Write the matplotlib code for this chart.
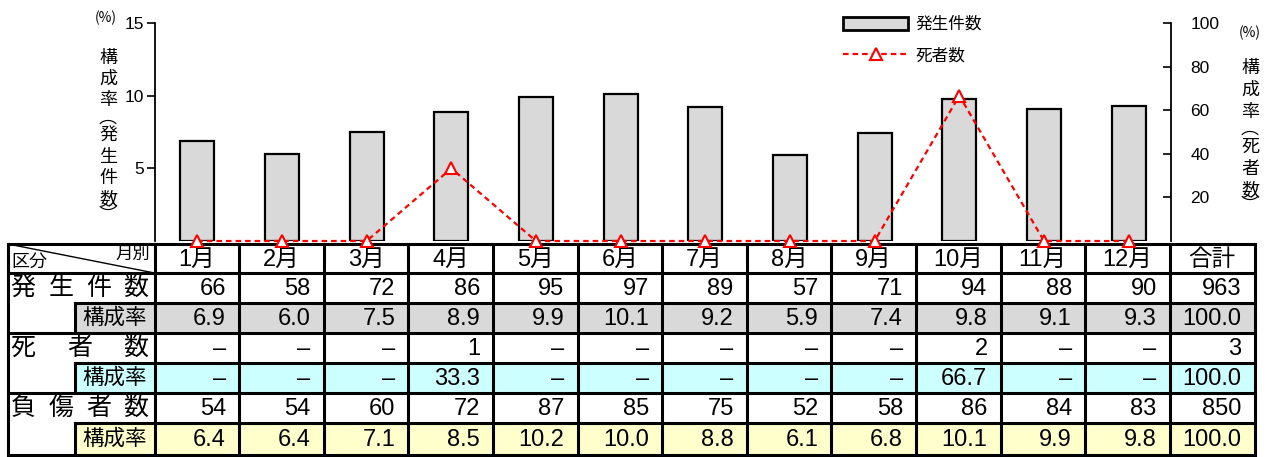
import numpy as np
import matplotlib
matplotlib.use("Agg")
import matplotlib.pyplot as plt
from matplotlib.lines import Line2D
from matplotlib.patches import Patch, Rectangle

plt.rcParams['font.family'] = ['Liberation Sans', 'Noto Sans CJK JP', 'DejaVu Sans']
NUMFONT = ['Liberation Sans', 'Noto Sans CJK JP']
JPFONT = ['Noto Sans CJK JP', 'DejaVu Sans']

# ---------------- data ----------------
months = ["1月", "2月", "3月", "4月", "5月", "6月", "7月", "8月", "9月", "10月", "11月", "12月"]
total_label = "合計"
incidents = [66, 58, 72, 86, 95, 97, 89, 57, 71, 94, 88, 90]
incidents_total = 963
incident_rate = [6.9, 6.0, 7.5, 8.9, 9.9, 10.1, 9.2, 5.9, 7.4, 9.8, 9.1, 9.3]
deaths = [0, 0, 0, 1, 0, 0, 0, 0, 0, 2, 0, 0]
deaths_total = 3
death_rate = [0, 0, 0, 33.3, 0, 0, 0, 0, 0, 66.7, 0, 0]
injured = [54, 54, 60, 72, 87, 85, 75, 52, 58, 86, 84, 83]
injured_total = 850
injured_rate = [6.4, 6.4, 7.1, 8.5, 10.2, 10.0, 8.8, 6.1, 6.8, 10.1, 9.9, 9.8]
rate_total = 100.0

left_ticks = [5, 10, 15]
right_ticks = [20, 40, 60, 80, 100]
left_ylabel = "構成率︵発生件数︶"
right_ylabel = "構成率︵死者数︶"
row_labels = ["発生件数", "死者数", "負傷者数"]
rate_label = "構成率"
legend_labels = ["発生件数", "死者数"]

# ---------------- figure ----------------
W, H = 1273, 457
fig = plt.figure(figsize=(W / 100, H / 100), dpi=100)

tab = fig.add_axes([0, 0, 1, 1])
tab.set_xlim(0, W)
tab.set_ylim(H, 0)
tab.axis('off')

ax_left, ax_right, ax_top, ax_bot = 155, 1171, 23, 241
ax = fig.add_axes([ax_left / W, (H - ax_bot) / H, (ax_right - ax_left) / W, (ax_bot - ax_top) / H])
ax.patch.set_alpha(0)
x = np.arange(len(months))
ax.bar(x, incident_rate, width=0.4, color='#d9d9d9', edgecolor='black', linewidth=1.6)
ax.set_xlim(-0.5, len(months) - 0.5)
ax.set_ylim(0, 15)
ax.set_yticks(left_ticks)
ax.set_xticks([])
ax.tick_params(axis='y', direction='out', length=6, width=1.2, labelsize=12.5, pad=2)
for s in ['top', 'bottom', 'right']:
    ax.spines[s].set_visible(False)
ax.spines['left'].set_linewidth(1.3)

ax2 = ax.twinx()
ax2.plot(x, death_rate, color='red', linestyle=(0, (2.5, 1.8)), lw=1.6, marker='^', ms=9,
         mfc='white', mec='red', mew=1.5, clip_on=False)
ax2.set_ylim(0, 100)
ax2.set_yticks(right_ticks)
ax2.tick_params(axis='y', direction='in', length=6, width=1.2, labelsize=12.5, pad=14)
for s in ['top', 'bottom', 'left']:
    ax2.spines[s].set_visible(False)
ax2.spines['right'].set_linewidth(1.3)

# legend
handles = [Patch(facecolor='#d9d9d9', edgecolor='black', linewidth=2),
           Line2D([], [], color='red', linestyle=(0, (2.5, 1.8)), lw=1.6, marker='^', ms=8,
                  mfc='white', mec='red', mew=1.5)]
fig.legend(handles, legend_labels, loc='upper left', bbox_to_anchor=(828 / W, 1 - 1 / H),
           frameon=False, prop={'family': JPFONT, 'size': 12}, handlelength=3.9,
           handleheight=0.85, labelspacing=0.85, handletextpad=0.45)

# axis label texts (vertical)
tab.text(106, 18, "(%)", fontsize=10, ha='center', va='center', family=JPFONT)
lpos = [58, 79, 100, 118, 135, 157, 178, 199, 216]
for ch, yy in zip(left_ylabel, lpos):
    tab.text(108, yy, ch, fontsize=13, ha='center', va='center', family=JPFONT)
tab.text(1250, 33, "(%)", fontsize=10, ha='center', va='center', family=JPFONT)
rpos = [68, 90, 112, 129, 147, 169, 190, 206]
for ch, yy in zip(right_ylabel, rpos):
    tab.text(1250, yy, ch, fontsize=13, ha='center', va='center', family=JPFONT)

# ---------------- table ----------------
rows_y = [244, 273, 303, 333, 363, 393, 423, 455]
x0, xsub, xlab = 8, 75, 154.5
cw = 84.6
edges = [xlab + i * cw for i in range(len(months) + 1)]
edges.append(edges[-1] + 85)
xr = edges[-1]
fills = {2: '#d9d9d9', 4: '#ccffff', 6: '#ffffcc'}
for r, c in fills.items():
    tab.add_patch(Rectangle((xsub, rows_y[r]), xr - xsub, rows_y[r + 1] - rows_y[r],
                            facecolor=c, edgecolor='none'))
LW = 2.2
for r, yy in enumerate(rows_y):
    xs = xsub if r in fills else x0
    tab.plot([xs, xr], [yy, yy], color='black', lw=LW, solid_capstyle='projecting')
for xx in [x0] + edges:
    tab.plot([xx, xx], [rows_y[0], rows_y[-1]], color='black', lw=LW, solid_capstyle='projecting')
for r in fills:
    tab.plot([xsub, xsub], [rows_y[r], rows_y[r + 1]], color='black', lw=LW, solid_capstyle='projecting')
# header diagonal
tab.plot([x0, xlab], [rows_y[0], rows_y[1]], color='black', lw=1.0)
tab.text(11, 262, "区分", fontsize=13, ha='left', va='center', family=JPFONT)
tab.text(150, 254, "月別", fontsize=12.5, ha='right', va='center', family=JPFONT)

col_labels = months + [total_label]
hy = (rows_y[0] + rows_y[1]) / 2
for i, lab in enumerate(col_labels):
    cx = (edges[i] + edges[i + 1]) / 2
    tab.text(cx, hy + 1, lab, fontsize=17, ha='center', va='center', family=NUMFONT)

def fmt_int(v):
    return "–" if v == 0 else str(v)

def fmt_rate(v):
    return "–" if v == 0 else f"{v:.1f}"

table_rows = [
    [fmt_int(v) for v in incidents] + [str(incidents_total)],
    [fmt_rate(v) for v in incident_rate] + [f"{rate_total:.1f}"],
    [fmt_int(v) for v in deaths] + [str(deaths_total)],
    [fmt_rate(v) for v in death_rate] + [f"{rate_total:.1f}"],
    [fmt_int(v) for v in injured] + [str(injured_total)],
    [fmt_rate(v) for v in injured_rate] + [f"{rate_total:.1f}"],
]
for r, vals in enumerate(table_rows, start=1):
    cy = (rows_y[r] + rows_y[r + 1]) / 2
    for i, s in enumerate(vals):
        tab.text(edges[i + 1] - 13, cy + 1, s, fontsize=17, ha='right', va='center', family=NUMFONT)

# row labels distributed across the label column
for k, lab in enumerate(row_labels):
    r = 1 + 2 * k
    cy = (rows_y[r] + rows_y[r + 1]) / 2
    n = len(lab)
    xs = np.linspace(23, 136, n)
    for ch, xx in zip(lab, xs):
        tab.text(xx, cy, ch, fontsize=18, ha='center', va='center', family=JPFONT)
    cy2 = (rows_y[r + 1] + rows_y[r + 2]) / 2
    tab.text((xsub + xlab) / 2, cy2, rate_label, fontsize=15.5, ha='center', va='center', family=JPFONT)

fig.savefig("out.png", dpi=100)
